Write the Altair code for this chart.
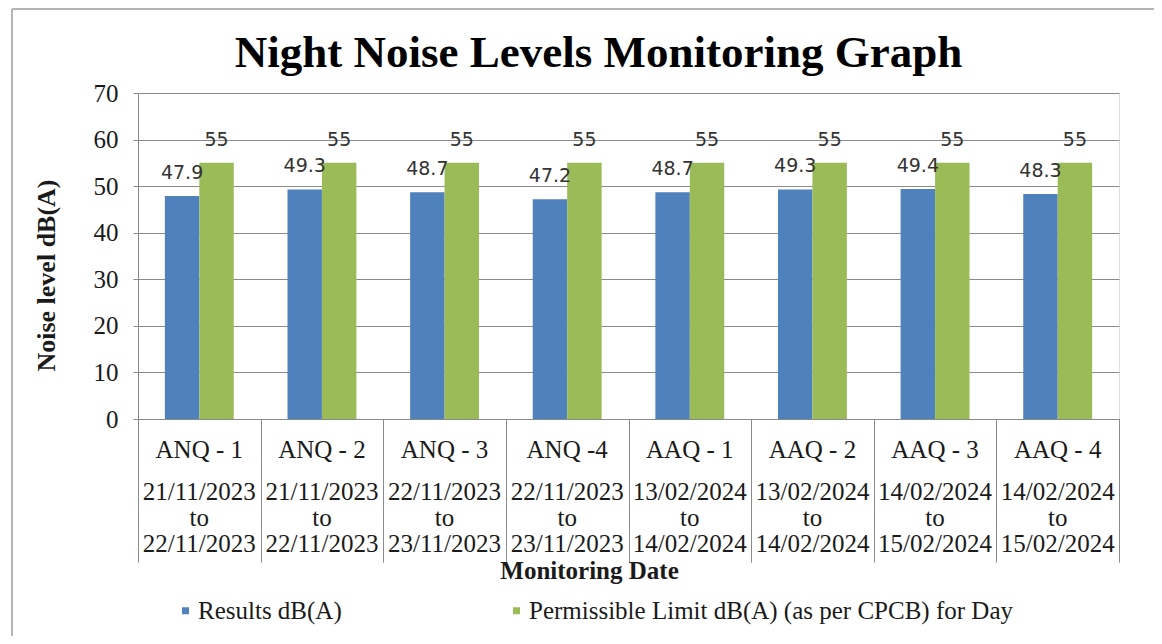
import altair as alt
import pandas as pd

# ---------------- data ----------------
stations = ["ANQ - 1", "ANQ - 2", "ANQ - 3", "ANQ -4", "AAQ - 1", "AAQ - 2", "AAQ - 3", "AAQ - 4"]
start_dates = ["21/11/2023", "21/11/2023", "22/11/2023", "22/11/2023",
               "13/02/2024", "13/02/2024", "14/02/2024", "14/02/2024"]
end_dates = ["22/11/2023", "22/11/2023", "23/11/2023", "23/11/2023",
             "14/02/2024", "14/02/2024", "15/02/2024", "15/02/2024"]
results = [47.9, 49.3, 48.7, 47.2, 48.7, 49.3, 49.4, 48.3]
limits = [55, 55, 55, 55, 55, 55, 55, 55]
series_names = ["Results dB(A)", "Permissible Limit dB(A) (as per CPCB) for Day"]
y_ticks = [0, 10, 20, 30, 40, 50, 60, 70]

rows = []
for i, s in enumerate(stations):
    rows.append({"station": s, "series": series_names[0], "value": results[i], "label": f"{results[i]:g}"})
    rows.append({"station": s, "series": series_names[1], "value": limits[i], "label": f"{limits[i]:g}"})
bars_df = pd.DataFrame(rows)
cat_df = pd.DataFrame({
    "station": stations,
    "period": [f"{a}\nto\n{b}" for a, b in zip(start_dates, end_dates)],
})

# ---------------- style ----------------
W, H = 981, 326
FONT = "Liberation Serif"
GRAY = "#8a8a8a"
BLUE = "#4F81BD"
GREEN = "#9BBB59"
TXT = "#1a1a1a"

x_enc = alt.X(
    "station:N", sort=stations,
    scale=alt.Scale(domain=stations, paddingInner=0, paddingOuter=0),
    axis=alt.Axis(
        title="Monitoring Date", labels=False, ticks=True, tickBand="extent",
        tickSize=143, tickColor=GRAY, tickWidth=1, domainColor=GRAY, domainWidth=1,
        grid=False, titleFont=FONT, titleFontWeight="bold", titleFontSize=25,
        titleColor=TXT, titleX=451, titleY=159, titleAlign="center",
        titleBaseline="alphabetic",
    ),
)
xoff_enc = alt.XOffset(
    "series:N", sort=series_names,
    scale=alt.Scale(domain=series_names, paddingInner=0, paddingOuter=0.78),
)
y_enc = alt.Y(
    "value:Q",
    scale=alt.Scale(domain=[0, 70], nice=False),
    axis=alt.Axis(
        values=y_ticks, title="Noise level dB(A)", grid=True, gridColor=GRAY,
        gridWidth=1, domainColor=GRAY, tickColor=GRAY, tickSize=5,
        labelFont=FONT, labelFontSize=25, labelColor=TXT, labelPadding=15,
        titleFont=FONT, titleFontWeight="bold", titleFontSize=26, titleColor=TXT,
        titleAngle=270, titleX=-92, titleY=182, titleAlign="center",
        titleBaseline="middle",
    ),
)

bars = alt.Chart(bars_df).mark_bar().encode(
    x=x_enc,
    xOffset=xoff_enc,
    y=y_enc,
    color=alt.Color(
        "series:N", sort=series_names,
        scale=alt.Scale(domain=series_names, range=[BLUE, GREEN]),
        legend=alt.Legend(
            title=None, orient="none", legendX=35, legendY=505,
            direction="horizontal", columns=2, columnPadding=162,
            symbolType="square", symbolSize=49, symbolStrokeWidth=0,
            labelFont=FONT, labelFontSize=25, labelColor=TXT, labelLimit=0,
            labelOffset=0,
        ),
    ),
)

value_labels = alt.Chart(bars_df).mark_text(
    font="DejaVu Sans", fontSize=19, color="#333333", baseline="alphabetic",
    align="center", dy=-17,
).encode(x=x_enc, xOffset=xoff_enc, y=y_enc, text="label:N")

name_labels = alt.Chart(cat_df).mark_text(
    font=FONT, fontSize=25, color=TXT, baseline="alphabetic", align="center",
).encode(x=x_enc, y=alt.value(365), text="station:N")

period_labels = alt.Chart(cat_df).mark_text(
    font=FONT, fontSize=25, color=TXT, baseline="alphabetic", align="center",
    lineBreak="\n", lineHeight=26,
).encode(x=x_enc, y=alt.value(407), text="period:N")

frame_df = pd.DataFrame({"k": [0]})
frame_left = alt.Chart(frame_df).mark_rule(color="#b5b5b5", strokeWidth=2).encode(
    x=alt.value(-126), y=alt.value(-84), y2=alt.value(560)
)
frame_top = alt.Chart(frame_df).mark_rule(color="#b5b5b5", strokeWidth=2).encode(
    x=alt.value(-126), x2=alt.value(1040), y=alt.value(-84)
)

chart = alt.layer(
    frame_left, frame_top, bars, value_labels, name_labels, period_labels
).properties(
    width=W, height=H,
    title=alt.Title(
        "Night Noise Levels Monitoring Graph", font=FONT, fontSize=45,
        fontWeight="bold", color="#000000", anchor="middle", frame="group",
        baseline="alphabetic", offset=0, dx=-30, dy=104,
    ),
    padding={"left": 130, "top": 85, "right": 35, "bottom": 217},
    autosize=alt.AutoSizeParams(type="none"),
).configure_view(stroke=None).configure(background="white").configure_legend(
    labelFont=FONT, labelFontSize=25, labelColor=TXT
)

chart.save("out.html", embed_options={"renderer": "svg", "actions": False})
